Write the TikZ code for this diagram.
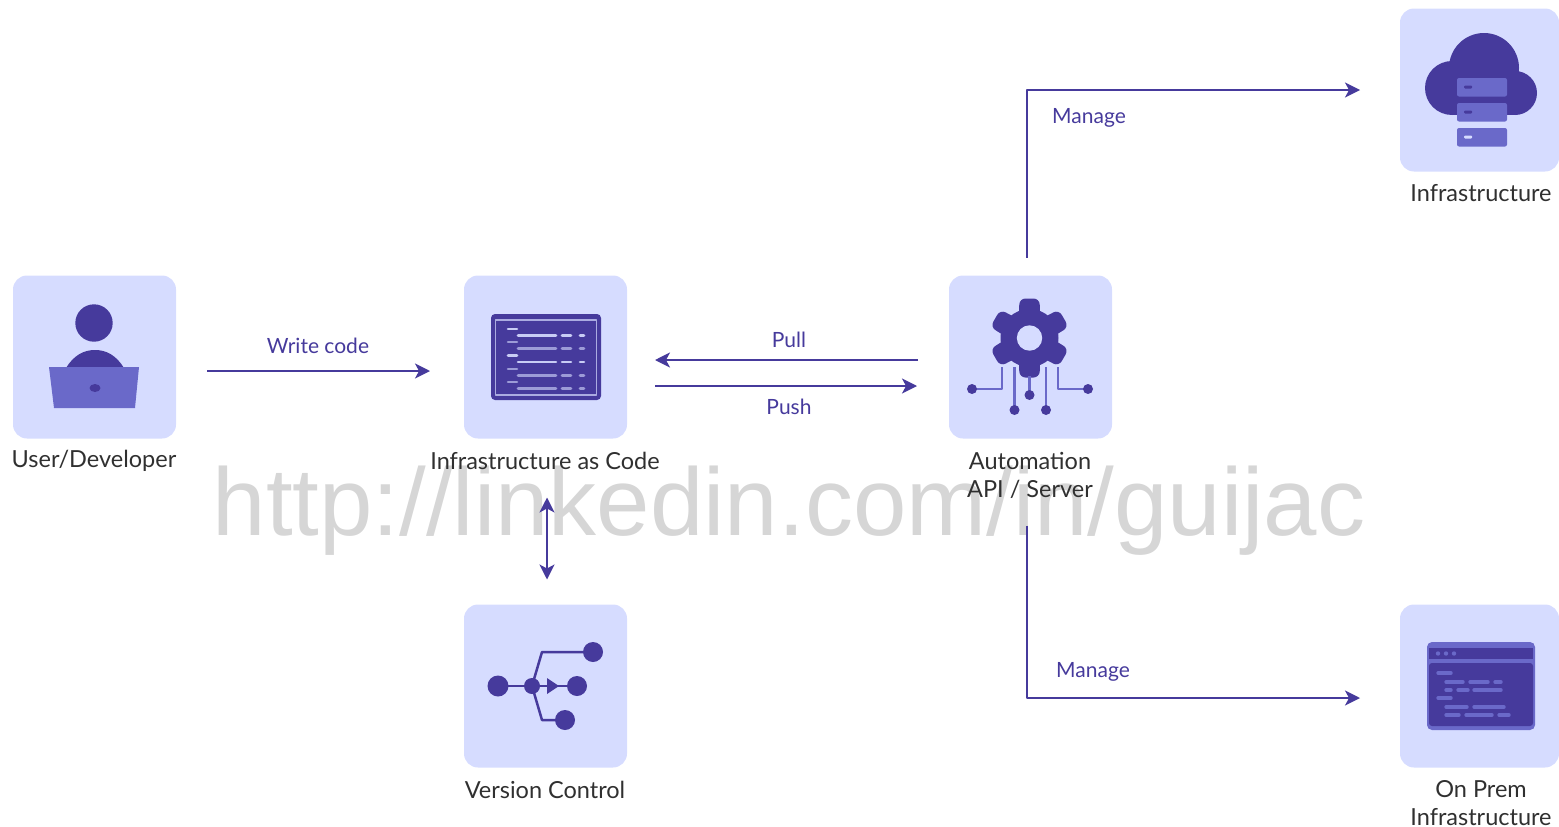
\documentclass[tikz,border=0pt]{standalone}
\usepackage{fontspec}
\setmainfont{Lato}
\newfontfamily\markfont{Liberation Sans}
\usetikzlibrary{arrows.meta}
\definecolor{tilebg}{HTML}{D6DCFF}
\definecolor{ink}{HTML}{463A9C}
\definecolor{inklight}{HTML}{6A69C9}
\definecolor{capt}{HTML}{303030}
\definecolor{wmark}{HTML}{D6D6D6}
\tikzset{
  tile/.style={fill=tilebg,rounded corners=14pt,minimum width=163pt,minimum height=163pt,inner sep=0pt,outer sep=0pt},
  caption/.style={text=capt,font=\fontsize{23.5}{28}\selectfont,align=center,inner sep=0pt},
  flowlabel/.style={text=ink,font=\fontsize{21}{24}\selectfont,inner sep=0pt},
  flow/.style={draw=ink,line width=1.7pt,-{Stealth[length=15pt,width=15pt,inset=4pt]}},
  flowboth/.style={draw=ink,line width=1.7pt,{Stealth[length=15pt,width=15pt,inset=4pt]}-{Stealth[length=15pt,width=15pt,inset=4pt]}},
  wire/.style={draw=inklight,line width=2.2pt},
  codeline/.style={line width=2.6pt,line cap=round}
}
\begin{document}
\begin{tikzpicture}[x=1pt,y=-1pt,line join=round]
  \useasboundingbox (0,0) rectangle (1559,827);
  \node[text=wmark,font=\markfont\fontsize{96}{96}\selectfont,inner sep=0pt,anchor=base] (mark) at (789,535) {http://linkedin.com/in/guijac};

  \node[tile] (user) at (94.5,357) {};
  \node[tile] (iac) at (545.5,357) {};
  \node[tile] (auto) at (1030.5,357) {};
  \node[tile] (vcs) at (545.5,686) {};
  \node[tile,minimum width=159pt] (cloud) at (1479.5,90) {};
  \node[tile,minimum width=159pt] (onprem) at (1479.5,686) {};

  \node[caption] (usertext) at (94,461) {User/Developer};
  \node[caption] (iactext) at (545,461) {Infrastructure as Code};
  \node[caption] (autotext) at (1030,475) {Automation\\API / Server};
  \node[caption] (vcstext) at (545,790) {Version Control};
  \node[caption] (cloudtext) at (1481,193) {Infrastructure};
  \node[caption] (onpremtext) at (1481,803) {On Prem\\Infrastructure};

  % connectors
  \draw[flow,shorten <=31pt,shorten >=34pt] ([yshift=-14pt]user.east) -- ([yshift=-14pt]iac.west);
  \draw[flow,shorten <=31pt,shorten >=28pt] ([yshift=-3pt]auto.west) -- ([yshift=-3pt]iac.east);
  \draw[flow,shorten <=28pt,shorten >=32pt] ([yshift=-29pt]iac.east) -- ([yshift=-29pt]auto.west);
  \draw[flowboth,shorten <=59pt,shorten >=25pt] ([xshift=1.5pt]iac.south) -- ([xshift=1.5pt]vcs.north);
  \draw[flow,shorten <=18pt,shorten >=40pt] ([xshift=-3.5pt]auto.north) |- (cloud.west);
  \draw[flow,shorten <=87pt,shorten >=40pt] ([xshift=-3.5pt]auto.south) |- ([yshift=-12pt]onprem.west);

  \node[flowlabel] (writetext) at (318,346) {Write code};
  \node[flowlabel] (pulltext) at (789,340) {Pull};
  \node[flowlabel] (pushtext) at (789,407) {Push};
  \node[flowlabel] (managetop) at (1089,118) {Manage};
  \node[flowlabel] (managelow) at (1093,672) {Manage};

  % person at laptop
  \fill[ink] (94,323) circle (18.7);
  \fill[ink] (66,368) .. controls (74,355) and (84,350) .. (95,350) .. controls (106,350) and (116,355) .. (124,368) -- cycle;
  \fill[inklight] (49,367) -- (139,367) -- (135,408) -- (54,408) -- cycle;
  \fill[ink] (95,388) ellipse (5.5 and 4);

  % code panel
  \fill[ink,rounded corners=4pt] (491,314) rectangle (601,400);
  \draw[draw=tilebg!70!ink,line width=1.6pt] (495.5,320) rectangle (596.5,395);
  \foreach \rowy/\rowtone in {329/90,342/60,355.5/90,369/60,382/60}{
    \draw[codeline,tilebg!\rowtone!ink] (508,\rowy) -- (517,\rowy);
    \draw[codeline,tilebg!\rowtone!ink] (518,\rowy+6.3) -- (556,\rowy+6.3);
    \draw[codeline,tilebg!\rowtone!ink] (562,\rowy+6.3) -- (571,\rowy+6.3);
    \draw[codeline,tilebg!\rowtone!ink] (580,\rowy+6.3) -- (584,\rowy+6.3);
  }

  % gear and circuit
  \foreach \ang in {0,60,120,180,240,300}{
    \fill[ink,rounded corners=6pt,rotate around={\ang:(1029.5,338)}] (1018,338) -- (1019.5,298.5) -- (1039.5,298.5) -- (1041,338) -- cycle;
  }
  \fill[ink] (1029.5,338) circle (29);
  \fill[tilebg] (1029.5,338) circle (12.7);
  \draw[wire] (1002,367) -- (1002,389) -- (972,389);
  \draw[wire] (1014.5,367) -- (1014.5,410);
  \draw[wire] (1029.5,376) -- (1029.5,395);
  \draw[wire] (1046,367) -- (1046,410);
  \draw[wire] (1058,367) -- (1058,389) -- (1088,389);
  \foreach \dotx/\doty in {972/389,1014.5/410,1029.5/395,1046/410,1088/389}{
    \fill[ink] (\dotx,\doty) circle (5);
  }

  % branches
  \draw[ink,line width=2.5pt] (498,686) -- (577,686);
  \draw[ink,line width=2.5pt] (532,686) -- (542,652) -- (593,652);
  \draw[ink,line width=2.5pt] (532,686) -- (542,720) -- (565,720);
  \fill[ink] (547,678) -- (559,686) -- (547,694) -- cycle;
  \foreach \dotx/\doty/\dotr in {498/686/10.5,532/686/8,577/686/10,593/652/10,565/720/10}{
    \fill[ink] (\dotx,\doty) circle (\dotr);
  }

  % cloud with servers
  \fill[ink] (1484,68) circle (35);
  \fill[ink] (1452,88) circle (27);
  \fill[ink] (1515,93) circle (22);
  \fill[ink] (1452,90) rectangle (1515,115);
  \foreach \srvy/\srvtone in {78/ink,103/ink,128/tilebg}{
    \fill[inklight,rounded corners=2pt] (1457,\srvy) rectangle (1507,\srvy+18.5);
    \fill[\srvtone,rounded corners=1pt] (1464,\srvy+7.5) rectangle (1472,\srvy+10.5);
  }

  % server window
  \fill[inklight,rounded corners=5pt] (1427,642) rectangle (1535,730);
  \fill[ink] (1429,648) rectangle (1533,659);
  \fill[ink,rounded corners=3pt] (1429,663) rectangle (1533,726);
  \foreach \dotx in {1438,1446,1454}{
    \fill[inklight] (\dotx,653.5) circle (2.2);
  }
  \foreach \segy/\sega/\segb in {673/1438/1451,682/1446/1463,682/1470/1488,682/1495/1501,690/1446/1451,690/1458/1468,690/1474/1501,698/1438/1451,707/1446/1467,707/1474/1504,715/1446/1459,715/1466/1492,715/1499/1509}{
    \draw[inklight,line width=3.4pt,line cap=round] (\sega,\segy) -- (\segb,\segy);
  }
\end{tikzpicture}
\end{document}
